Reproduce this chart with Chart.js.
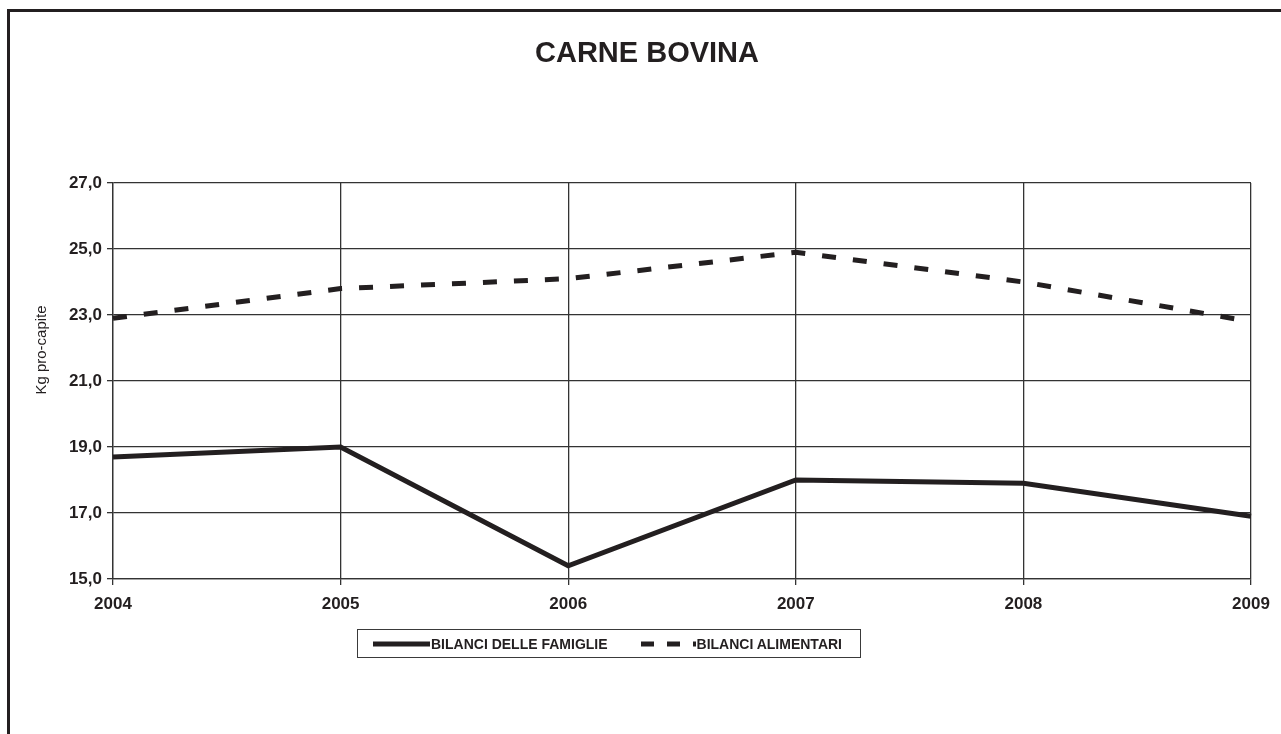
<!DOCTYPE html>
<html>
<head>
  <meta charset="UTF-8">
  <title>Carne bovina</title>
  <style>
    body { margin: 0; background: #fff; overflow: hidden; font-family: "Liberation Sans", Arial, sans-serif; }
    #wrap { position: relative; width: 1281px; height: 734px; }
    #frame { position: absolute; left: 7px; top: 9px; width: 1400px; height: 900px;
             border-left: 3px solid #231f20; border-top: 3px solid #231f20; }
    #chart { position: absolute; left: 0; top: 0; }
    #legend { position: absolute; left: 357px; top: 629px; width: 504px; height: 29px;
              border: 1.5px solid #3a3a3a; display: flex; align-items: center; padding-left: 15px;
              box-sizing: border-box; }
    .item { display: flex; align-items: center; flex: none; white-space: nowrap;
            font-weight: bold; font-size: 14px; color: #231f20; margin-right: 33px; }
    .item svg { display: block; margin-right: 1px; }
  </style>
  <link rel="icon" href="data:,">
  <script src="https://cdn.jsdelivr.net/npm/chart.js"></script>
</head>
<body>
  <div id="wrap">
    <div id="frame"></div>
    <canvas id="chart" width="1281" height="734"></canvas>
    <div id="legend"></div>
  </div>

  <script>
    const years = ['2004', '2005', '2006', '2007', '2008', '2009'];
    const famiglie = [18.7, 19.0, 15.4, 18.0, 17.9, 16.9];
    const alimentari = [22.9, 23.8, 24.1, 24.9, 24.0, 22.8];
    const yTicks = [15, 17, 19, 21, 23, 25, 27];

    const ink = '#231f20';
    const gridColor = '#333';

    Chart.defaults.font.family = '"Liberation Sans", Arial, sans-serif';
    Chart.defaults.color = ink;

    // rotated y title, sits a bit above the middle of the plot
    const yTitle = {
      id: 'yTitle',
      afterDraw(chart) {
        const ctx = chart.ctx, a = chart.chartArea;
        ctx.save();
        ctx.translate(a.left - 71, a.top + 167);
        ctx.rotate(-Math.PI / 2);
        ctx.font = '15px "Liberation Sans", Arial, sans-serif';
        ctx.fillStyle = ink;
        ctx.textAlign = 'center';
        ctx.textBaseline = 'middle';
        ctx.fillText('Kg pro-capite', 0, 0);
        ctx.restore();
      }
    };

    const chart = new Chart(document.getElementById('chart'), {
      type: 'line',
      data: {
        labels: years,
        datasets: [
          {
            label: 'BILANCI DELLE FAMIGLIE',
            data: famiglie,
            borderColor: ink,
            borderWidth: 5,
            pointRadius: 0,
            tension: 0
          },
          {
            label: 'BILANCI ALIMENTARI',
            data: alimentari,
            borderColor: ink,
            borderWidth: 5,
            borderDash: [14, 17],
            pointRadius: 0,
            tension: 0
          }
        ]
      },
      options: {
        responsive: false,
        animation: false,
        layout: { padding: { left: 43, right: 30, top: 0, bottom: 115 } },
        plugins: {
          legend: { display: false },
          tooltip: { enabled: false },
          title: {
            display: true,
            text: 'CARNE BOVINA',
            color: ink,
            font: { size: 29, weight: 'bold' },
            padding: { top: 37, bottom: 111.2 }
          }
        },
        scales: {
          x: {
            offset: false,
            grid: { color: gridColor, lineWidth: 1.3, tickLength: 6 },
            border: { color: gridColor, width: 1.3 },
            ticks: { font: { size: 17, weight: 'bold' }, padding: 9, maxRotation: 0, autoSkip: false },
            afterFit: s => { s.height = 40; }
          },
          y: {
            min: 15,
            max: 27,
            afterBuildTicks: s => { s.ticks = yTicks.map(v => ({ value: v })); },
            grid: { color: gridColor, lineWidth: 1.3, tickLength: 6 },
            border: { color: gridColor, width: 1.3 },
            ticks: {
              font: { size: 17, weight: 'bold' },
              padding: 5,
              callback: v => v.toFixed(1).replace('.', ',')
            },
            afterFit: s => { s.width = 70; }
          }
        }
      },
      plugins: [yTitle]
    });

    // legend box built from the datasets
    const legend = document.getElementById('legend');
    chart.data.datasets.forEach(ds => {
      const dashed = !!ds.borderDash;
      const w = dashed ? 55 : 57;
      const item = document.createElement('div');
      item.className = 'item';
      item.innerHTML = `
        <svg width="${w}" height="6"><line x1="0" y1="3" x2="${w}" y2="3" stroke="${ds.borderColor}"
          stroke-width="${ds.borderWidth}" ${dashed ? 'stroke-dasharray="13 13"' : ''}/></svg>
        <span>${ds.label}</span>`;
      legend.appendChild(item);
    });
  </script>
</body>
</html>
